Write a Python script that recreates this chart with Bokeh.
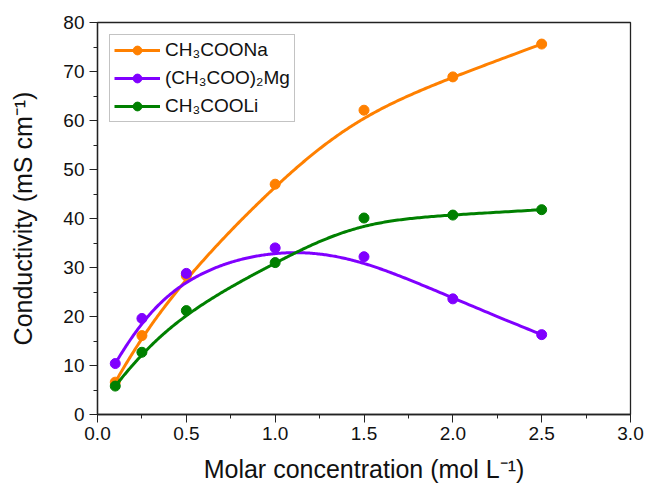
import numpy as np
from bokeh.plotting import figure
from bokeh.models import Legend, LegendItem, FixedTicker, NumeralTickFormatter, Range1d
from bokeh.embed import file_html
from bokeh.resources import INLINE

# ---- data ----
conc = [0.1, 0.25, 0.5, 1.0, 1.5, 2.0, 2.5]
na_vals = [6.6, 16.1, 28.3, 47.0, 62.1, 68.9, 75.6]
mg_vals = [10.4, 19.6, 28.8, 34.0, 32.2, 23.6, 16.3]
li_vals = [5.8, 12.7, 21.2, 31.0, 40.1, 40.7, 41.8]
labels = ["CH\u2083COONa", "(CH\u2083COO)\u2082Mg", "CH\u2083COOLi"]
colors = ["#FF8000", "#8000FF", "#008000"]
x_ticks = [0.0, 0.5, 1.0, 1.5, 2.0, 2.5, 3.0]
y_ticks = [0, 10, 20, 30, 40, 50, 60, 70, 80]

FONT = "Liberation Sans"


def bspline(xs, ys, deg=3, num=300):
    """Clamped B-spline with the data points as control points (Origin-style B-spline line)."""
    P = np.column_stack([xs, ys]).astype(float)
    n = len(P)
    k = min(deg, n - 1)
    knots = np.concatenate([np.zeros(k + 1), np.arange(1, n - k), np.full(k + 1, n - k)]).astype(float)
    t = np.linspace(0, n - k, num)
    m = len(knots) - 1
    B = np.zeros((num, m))
    for i in range(m):
        B[:, i] = (t >= knots[i]) & (t < knots[i + 1])
    B[t >= knots[-1], n - 1] = 1.0
    for p in range(1, k + 1):
        Bn = np.zeros((num, m - p))
        for i in range(m - p):
            d1 = knots[i + p] - knots[i]
            d2 = knots[i + p + 1] - knots[i + 1]
            term = np.zeros(num)
            if d1 > 0:
                term += (t - knots[i]) / d1 * B[:, i]
            if d2 > 0:
                term += (knots[i + p + 1] - t) / d2 * B[:, i + 1]
            Bn[:, i] = term
        B = Bn
    C = B @ P
    return C[:, 0], C[:, 1]


p = figure(width=644, height=490, output_backend="svg", toolbar_location=None,
           x_range=Range1d(0, 3), y_range=Range1d(0, 80),
           min_border_left=97, min_border_right=14, min_border_top=22, min_border_bottom=76)

p.background_fill_color = "white"
p.border_fill_color = "white"
p.outline_line_color = "#222222"
p.outline_line_width = 1.3
p.grid.visible = False

p.xaxis.ticker = FixedTicker(ticks=x_ticks, minor_ticks=[0.25, 0.75, 1.25, 1.75, 2.25, 2.75])
p.yaxis.ticker = FixedTicker(ticks=y_ticks, minor_ticks=[5, 15, 25, 35, 45, 55, 65, 75])
p.xaxis.formatter = NumeralTickFormatter(format="0.0")

for ax in (p.xaxis, p.yaxis):
    ax.axis_line_color = "#222222"
    ax.axis_line_width = 1.3
    ax.major_tick_line_color = "#222222"
    ax.minor_tick_line_color = "#222222"
    ax.major_tick_out = 8
    ax.major_tick_in = 0
    ax.minor_tick_out = 4
    ax.minor_tick_in = 0
    ax.major_label_text_font = FONT
    ax.major_label_text_font_size = "19px"
    ax.major_label_text_color = "#111111"
    ax.axis_label_text_font = FONT
    ax.axis_label_text_font_size = "25px"
    ax.axis_label_text_font_style = "normal"
    ax.axis_label_text_color = "#111111"

p.xaxis.major_label_standoff = 4
p.yaxis.major_label_standoff = 5
p.xaxis.axis_label = "Molar concentration (mol L\u207B\u00B9)"
p.yaxis.axis_label = "Conductivity (mS cm\u207B\u00B9)"
p.xaxis.axis_label_standoff = 12
p.yaxis.axis_label_standoff = 23

items = []
for vals, lab, col in zip([na_vals, mg_vals, li_vals], labels, colors):
    cx, cy = bspline(conc, vals)
    r_line = p.line(cx, cy, line_color=col, line_width=3)
    r_pts = p.scatter(conc, vals, size=10, fill_color=col, line_color=col, line_width=1)
    items.append(LegendItem(label=lab, renderers=[r_line, r_pts]))

legend = Legend(items=items, location="top_left")
legend.margin = 12
legend.padding = 4
legend.spacing = 6
legend.glyph_width = 46
legend.glyph_height = 22
legend.label_height = 22
legend.label_standoff = 5
legend.label_text_font = FONT
legend.label_text_font_size = "19px"
legend.label_text_color = "#111111"
legend.border_line_color = "#888888"
legend.border_line_width = 1.3
legend.background_fill_color = "white"
legend.background_fill_alpha = 1.0
p.add_layout(legend)

open("out.html", "w").write(file_html(p, INLINE))
